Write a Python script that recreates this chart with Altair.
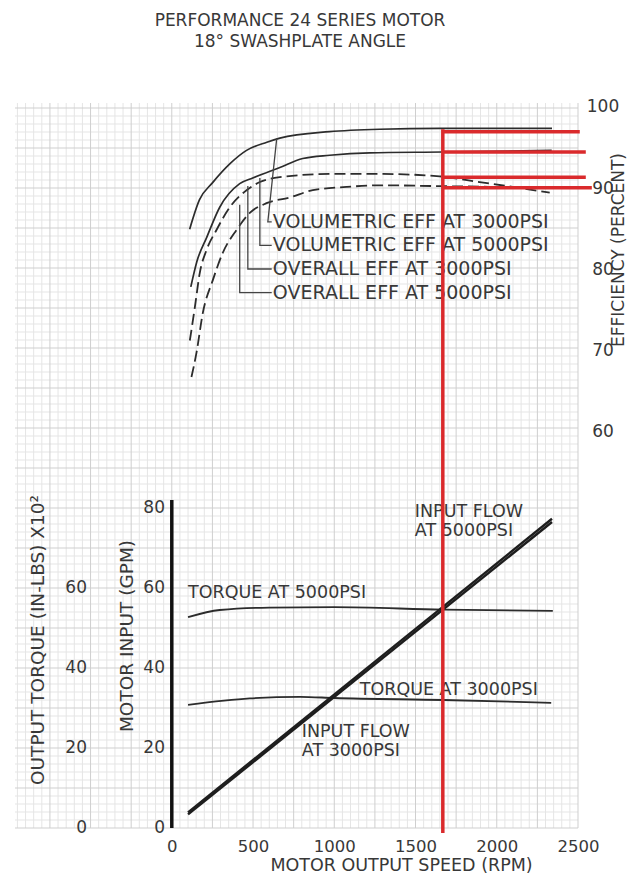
import altair as alt
import pandas as pd

# ---------------- values ----------------
# Upper panel: efficiency (%) against motor output speed (rpm)
vol_3000_rpm = [110, 170, 250, 360, 460, 585, 665, 970, 1280, 1650, 2340]
vol_3000_eff = [85.0, 88.6, 90.7, 93.1, 94.7, 95.7, 96.2, 97.0, 97.3, 97.4, 97.4]
vol_5000_rpm = [117, 154, 215, 295, 418, 498, 665, 806, 972, 1218, 1668, 2338]
vol_5000_eff = [77.9, 81.0, 84.0, 87.7, 90.6, 91.3, 92.6, 93.7, 94.1, 94.4, 94.5, 94.7]
ovr_3000_rpm = [111, 142, 172, 213, 275, 357, 460, 542, 665, 972, 1280, 1649, 1895, 2098, 2326]
ovr_3000_eff = [71.3, 75.4, 79.6, 82.4, 84.9, 87.7, 89.8, 90.8, 91.4, 91.8, 91.8, 91.5, 90.8, 90.2, 89.5]
ovr_5000_rpm = [121, 152, 191, 252, 314, 398, 480, 583, 726, 868, 1075, 1280, 1649, 2326]
ovr_5000_eff = [66.8, 69.8, 74.7, 78.7, 82.1, 84.9, 87.0, 88.2, 88.9, 89.8, 90.2, 90.4, 90.3, 90.1]

# Lower panel: torque (in-lbs x 10^2) and input flow (GPM)
torque_5000_rpm = [100, 295, 600, 1000, 1670, 2345]
torque_5000 = [52.7, 54.5, 55.1, 55.2, 54.6, 54.3]
torque_3000_rpm = [100, 480, 790, 1000, 1670, 2335]
torque_3000 = [30.8, 32.4, 32.8, 32.5, 32.0, 31.3]
flow_rpm = [100, 2340]
flow_3000 = [3.4, 76.5]
flow_5000 = [3.9, 77.3]

# red marker at the operating speed
marker_rpm = 1668
marker_span_eff = [97.3, 10.7]
marker_levels_eff = [97.0, 94.5, 91.4, 90.1]
marker_levels_end_rpm = [2511, 2548, 2548, 2585]

# tick labels
speed_ticks = [0, 500, 1000, 1500, 2000, 2500]
eff_ticks = [100, 90, 80, 70, 60]
gpm_ticks = [0, 20, 40, 60, 80]
torque_ticks = [0, 20, 40, 60]

# texts
title_lines = "PERFORMANCE 24 SERIES MOTOR\n18° SWASHPLATE ANGLE"
x_title = "MOTOR  OUTPUT  SPEED (RPM)"
torque_title = "OUTPUT TORQUE (IN-LBS) X10²"
gpm_title = "MOTOR INPUT (GPM)"
eff_title = "EFFICIENCY  (PERCENT)"
eff_names = ["VOLUMETRIC EFF AT 3000PSI", "VOLUMETRIC EFF AT 5000PSI",
             "OVERALL EFF AT 3000PSI", "OVERALL EFF AT 5000PSI"]
eff_name_rpm = [622, 622, 622, 622]
eff_name_eff = [85.9, 83.0, 80.1, 77.2]
leader_top_rpm = [646, 542, 468, 418]
leader_top_eff = [96.2, 91.3, 90.3, 88.0]
leader_corner_rpm = [591, 542, 468, 418]
leader_end_rpm = [615, 615, 615, 615]
low_names = ["TORQUE AT 5000PSI", "TORQUE  AT 3000PSI",
             "INPUT FLOW\nAT 3000PSI", "INPUT FLOW\nAT 5000PSI"]
low_name_rpm = [100, 1157, 800, 1496]
low_name_val = [58.7, 34.5, 24.0, 79.0]

# ---------------- styling ----------------
FONT = "DejaVu Sans"
INK = "#2c2c2c"
TXT = "#383838"
RED = "#da2a2c"
W, H = 563, 725

xs = alt.Scale(domain=[-965, 2500], nice=False, zero=False)
low_s = alt.Scale(domain=[0, 181.25], nice=False, zero=False)
eff_s = alt.Scale(domain=[11.30, 100.53], nice=False, zero=False)

x_axis = alt.Axis(values=speed_ticks, format="d", title=x_title, labelFont=FONT, labelFontSize=16.5,
                  labelColor=TXT, labelPadding=10, labelFlush=False, labelOverlap=False,
                  domain=False, ticks=False, grid=False, titleFont=FONT, titleFontSize=17.5,
                  titleFontWeight="normal", titleColor=TXT, titleX=386, titleY=37,
                  titleBaseline="middle", titleAlign="center")
X = alt.X("rpm:Q", scale=xs, axis=x_axis)


def y_low(f):
    return alt.Y(f"{f}:Q", scale=low_s, axis=None)


def y_eff(f):
    return alt.Y(f"{f}:Q", scale=eff_s, axis=None)


layers = []

# graph-paper grid
gx = pd.DataFrame({"rpm": list(range(-950, 2501, 50))})
gy = pd.DataFrame({"gpm": list(range(0, 182, 2))})
layers.append(alt.Chart(gx[gx.rpm % 250 != 0]).mark_rule(color="#e5e5e5", strokeWidth=1).encode(x=X))
layers.append(alt.Chart(gy[gy.gpm % 10 != 0]).mark_rule(color="#e5e5e5", strokeWidth=1).encode(y=y_low("gpm")))
layers.append(alt.Chart(gx[gx.rpm % 250 == 0]).mark_rule(color="#cfcfcf", strokeWidth=1).encode(x=X))
layers.append(alt.Chart(gy[gy.gpm % 10 == 0]).mark_rule(color="#cfcfcf", strokeWidth=1).encode(y=y_low("gpm")))

# heavy GPM axis line
layers.append(alt.Chart(pd.DataFrame({"rpm": [0], "gpm": [0], "gpm2": [82]}))
              .mark_rule(color="#111", strokeWidth=3.5).encode(x=X, y=y_low("gpm"), y2="gpm2:Q"))

# efficiency curves
solid = pd.concat([
    pd.DataFrame({"series": "v3000", "rpm": vol_3000_rpm, "eff": vol_3000_eff}),
    pd.DataFrame({"series": "v5000", "rpm": vol_5000_rpm, "eff": vol_5000_eff}),
])
dashed = pd.concat([
    pd.DataFrame({"series": "o3000", "rpm": ovr_3000_rpm, "eff": ovr_3000_eff}),
    pd.DataFrame({"series": "o5000", "rpm": ovr_5000_rpm, "eff": ovr_5000_eff}),
])
layers.append(alt.Chart(solid).mark_line(color=INK, strokeWidth=1.7, interpolate="monotone")
              .encode(x=X, y=y_eff("eff"), detail="series:N"))
layers.append(alt.Chart(dashed).mark_line(color=INK, strokeWidth=1.8, interpolate="monotone",
                                          strokeDash=[11, 5])
              .encode(x=X, y=y_eff("eff"), detail="series:N"))

# torque and flow lines
torque = pd.concat([
    pd.DataFrame({"series": "t5000", "rpm": torque_5000_rpm, "val": torque_5000}),
    pd.DataFrame({"series": "t3000", "rpm": torque_3000_rpm, "val": torque_3000}),
])
flow = pd.concat([
    pd.DataFrame({"series": "f3000", "rpm": flow_rpm, "val": flow_3000}),
    pd.DataFrame({"series": "f5000", "rpm": flow_rpm, "val": flow_5000}),
])
layers.append(alt.Chart(torque).mark_line(color=INK, strokeWidth=1.8, interpolate="monotone")
              .encode(x=X, y=y_low("val"), detail="series:N"))
layers.append(alt.Chart(flow).mark_line(color="#1e1e1e", strokeWidth=2.4)
              .encode(x=X, y=y_low("val"), detail="series:N"))

# leader lines to the efficiency labels
rows = []
for i in range(4):
    rows += [
        {"leader": i, "k": 0, "rpm": leader_top_rpm[i], "eff": leader_top_eff[i]},
        {"leader": i, "k": 1, "rpm": leader_corner_rpm[i], "eff": eff_name_eff[i]},
        {"leader": i, "k": 2, "rpm": leader_end_rpm[i], "eff": eff_name_eff[i]},
    ]
layers.append(alt.Chart(pd.DataFrame(rows)).mark_line(color="#444", strokeWidth=1.3)
              .encode(x=X, y=y_eff("eff"), detail="leader:N", order="k:Q"))

# curve labels
txt = dict(font=FONT, color=TXT)
layers.append(alt.Chart(pd.DataFrame({"rpm": eff_name_rpm, "eff": eff_name_eff, "t": eff_names}))
              .mark_text(align="left", baseline="middle", fontSize=19, **txt)
              .encode(x=X, y=y_eff("eff"), text="t:N"))
layers.append(alt.Chart(pd.DataFrame({"rpm": low_name_rpm, "val": low_name_val, "t": low_names}))
              .mark_text(align="left", baseline="middle", fontSize=17.5, lineBreak="\n",
                         lineHeight=18.5, **txt)
              .encode(x=X, y=y_low("val"), text="t:N"))

# tick labels of the three value scales
layers.append(alt.Chart(pd.DataFrame({"v": eff_ticks}))
              .mark_text(align="center", baseline="middle", fontSize=17, **txt)
              .encode(x=alt.value(588), y=y_eff("v"), text="v:Q"))
layers.append(alt.Chart(pd.DataFrame({"v": gpm_ticks}))
              .mark_text(align="right", baseline="middle", fontSize=17, **txt)
              .encode(x=alt.value(150), y=y_low("v"), text="v:Q"))
layers.append(alt.Chart(pd.DataFrame({"v": torque_ticks}))
              .mark_text(align="right", baseline="middle", fontSize=17, **txt)
              .encode(x=alt.value(72), y=y_low("v"), text="v:Q"))

# rotated axis titles
for t, px, py, fs in [(torque_title, 23, 537, 18.5), (gpm_title, 112, 533, 18.5),
                      (eff_title, 604, 147, 17)]:
    layers.append(alt.Chart(pd.DataFrame({"t": [t]}))
                  .mark_text(angle=270, align="center", baseline="middle", fontSize=fs, **txt)
                  .encode(x=alt.value(px), y=alt.value(py), text="t:N"))

# chart title (two lines)
layers.append(alt.Chart(pd.DataFrame({"t": [title_lines]}))
              .mark_text(align="center", baseline="middle", fontSize=17, lineHeight=21,
                         lineBreak="\n", **txt)
              .encode(x=alt.value(285), y=alt.value(-82), text="t:N"))

# red marker lines
layers.append(alt.Chart(pd.DataFrame({"rpm": [marker_rpm], "eff": [marker_span_eff[0]],
                                      "eff2": [marker_span_eff[1]]}))
              .mark_rule(color=RED, strokeWidth=3.5).encode(x=X, y=y_eff("eff"), y2="eff2:Q"))
layers.append(alt.Chart(pd.DataFrame({"rpm": [marker_rpm] * 4, "rpm_end": marker_levels_end_rpm,
                                      "eff": marker_levels_eff}))
              .mark_rule(color=RED, strokeWidth=3.5)
              .encode(x=X, x2="rpm_end:Q", y=y_eff("eff")))

chart = (alt.layer(*layers)
         .resolve_scale(y="independent")
         .properties(width=W, height=H, background="white",
                     autosize=alt.AutoSizeParams(type="none"),
                     padding={"left": 7, "top": 95, "right": 50, "bottom": 45})
         .configure_view(stroke=None))

chart.save("out.html", embed_options={"renderer": "svg", "actions": False})
